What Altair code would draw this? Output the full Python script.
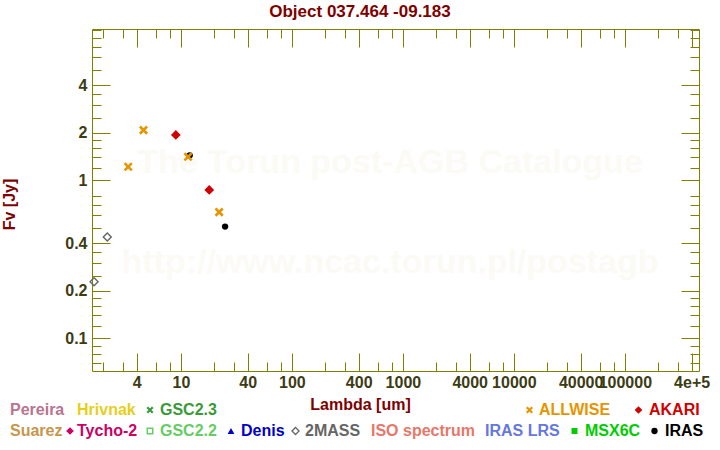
import altair as alt
import pandas as pd

# ---------------- data ----------------
title_text = "Object 037.464 -09.183"
x_title = "Lambda [um]"
y_title = "Fv [Jy]"

twomass_lam = [1.65, 2.17]
twomass_fnu = [0.228, 0.438]
allwise_lam = [3.35, 4.6, 11.6, 22.1]
allwise_fnu = [1.22, 2.08, 1.41, 0.63]
akari_lam = [9.0, 18.0]
akari_fnu = [1.94, 0.87]
iras_lam = [12.0, 25.0]
iras_fnu = [1.44, 0.51]

x_major = [4, 10, 40, 100, 400, 1000, 4000, 10000, 40000, 100000, 400000]
x_minor = [2, 3, 6, 8, 20, 30, 60, 80, 200, 300, 600, 800, 2000, 3000, 6000, 8000,
           20000, 30000, 60000, 80000, 200000, 300000]
y_major = [0.1, 0.2, 0.4, 1, 2, 4]
y_minor = [0.07, 0.08, 0.09, 0.12, 0.14, 0.16, 0.18, 0.25, 0.3, 0.35, 0.5, 0.6, 0.7, 0.8,
           1.2, 1.4, 1.6, 1.8, 2.5, 3, 3.5, 5, 6, 7, 8, 9]

watermark_lines = ["The Torun post-AGB Catalogue", "http://www.ncac.torun.pl/postagb"]

# legend entries: name, colour, symbol (None = no symbol)
legend_names = ["Pereira", "Hrivnak", "GSC2.3", "ALLWISE", "AKARI",
                "Suarez", "Tycho-2", "GSC2.2", "Denis", "2MASS", "ISO spectrum",
                "IRAS LRS", "MSX6C", "IRAS"]
legend_colors = ["#b87490", "#e6cf1a", "#3a9a3a", "#e69500", "#d10000",
                 "#c8964b", "#cc0066", "#66cc66", "#0000cc", "#666666", "#e8776a",
                 "#6677dd", "#00cc00", "#000000"]
legend_symbols = [None, None, "x", "x", "diamond",
                  None, "diamond", "osquare", "triangle-up", "odiamond", None,
                  None, "square", "circle"]

# ---------------- layout (pixels) ----------------
W, H = 607, 342
PAD = {"left": 92, "top": 29, "right": 21, "bottom": 79}
row_y = [381, 402]
legend_text_x = [-82, -15, 68, 447, 557,
                 -82, -15, 68, 149, 213, 279, 393, 493, 573]
legend_sym_x = [None, None, 58, 437.5, 546.5,
                None, -22, 58, 139, 203.5, None, None, 482.5, 562.5]
legend_row = [0, 0, 0, 0, 0, 1, 1, 1, 1, 1, 1, 1, 1, 1]

FONT = "Liberation Sans"
OLIVE = "#808000"
LABEL = "#3c3c14"
MAROON = "#800000"
XPATH = "M-1,-1L1,1M-1,1L1,-1"

xs = alt.Scale(type="log", domain=[1.58, 4.66e5], nice=False)
ys = alt.Scale(type="log", domain=[0.0622, 9.08], nice=False)

x_all = sorted(x_major + x_minor)
y_all = sorted(y_major + y_minor)


def tick_size(major):
    return {"condition": {"test": "indexof(%s, datum.value) >= 0" % str(major), "value": 18},
            "value": 9}


def frame_df(lam, fnu):
    return pd.DataFrame({"lam": lam, "fnu": fnu})


base_anchor = frame_df(twomass_lam, twomass_fnu)

# axis layer A: labels + titles
axis_a = alt.Chart(base_anchor).mark_point(opacity=0).encode(
    x=alt.X("lam:Q", scale=xs, axis=alt.Axis(
        orient="bottom", values=x_major,
        labelExpr="datum.value >= 400000 ? '4e+5' : format(datum.value, 'd')",
        ticks=False, tickSize=0, domain=False, grid=False, labelPadding=3,
        labelOverlap=False, labelFlush=False,
        labelFont=FONT, labelFontSize=16, labelFontWeight="bold", labelColor=LABEL,
        title=x_title, titleX=268, titleY=33, titleAlign="center", titleBaseline="middle",
        titleFont=FONT, titleFontSize=16, titleFontWeight="bold", titleColor=MAROON)),
    y=alt.Y("fnu:Q", scale=ys, axis=alt.Axis(
        orient="left", values=y_major, labelExpr="'' + datum.value",
        ticks=False, tickSize=0, domain=False, grid=False, labelPadding=5,
        labelOverlap=False, labelFlush=False,
        labelFont=FONT, labelFontSize=16, labelFontWeight="bold", labelColor=LABEL,
        title=y_title, titleX=-83, titleY=175, titleAngle=270, titleAlign="center",
        titleBaseline="middle", titleFont=FONT, titleFontSize=16, titleFontWeight="bold",
        titleColor=MAROON)),
)

tick_common = dict(labels=False, domain=False, grid=False, ticks=True, tickColor=OLIVE,
                   tickWidth=1, title=None)

# axis layer B: inward ticks on bottom and left edges
axis_b = alt.Chart(base_anchor).mark_point(opacity=0).encode(
    x=alt.X("lam:Q", scale=xs, axis=alt.Axis(orient="top", offset=-H, values=x_all,
                                             tickSize=tick_size(x_major), **tick_common)),
    y=alt.Y("fnu:Q", scale=ys, axis=alt.Axis(orient="right", offset=-W, values=y_all,
                                             tickSize=tick_size(y_major), **tick_common)),
)
# axis layer C: inward ticks on top and right edges
axis_c = alt.Chart(base_anchor).mark_point(opacity=0).encode(
    x=alt.X("lam:Q", scale=xs, axis=alt.Axis(orient="bottom", offset=-H, values=x_all,
                                             tickSize=tick_size(x_major), **tick_common)),
    y=alt.Y("fnu:Q", scale=ys, axis=alt.Axis(orient="left", offset=-W, values=y_all,
                                             tickSize=tick_size(y_major), **tick_common)),
)

one = pd.DataFrame({"a": [0]})

watermark = [
    alt.Chart(one).mark_text(text=t, font=FONT, fontSize=34, fontWeight="bold",
                             color="#fbfaf5", align="center", baseline="middle").encode(
        x=alt.value(298), y=alt.value(yy))
    for t, yy in zip(watermark_lines, [134, 234])
]

title_layer = alt.Chart(one).mark_text(
    text=title_text, font=FONT, fontSize=17, fontWeight="bold", color=MAROON,
    align="center", baseline="middle").encode(x=alt.value(268), y=alt.value(-17))


def pts(lam, fnu, **mk):
    return alt.Chart(frame_df(lam, fnu)).mark_point(opacity=1, **mk).encode(
        x=alt.X("lam:Q", scale=xs, axis=None),
        y=alt.Y("fnu:Q", scale=ys, axis=None),
    )


data_layers = [
    pts(iras_lam, iras_fnu, shape="circle", filled=True, color="#000000", size=40),
    pts(twomass_lam, twomass_fnu, shape="diamond", filled=False, color="#666666",
        size=64, strokeWidth=1.4),
    pts(akari_lam, akari_fnu, shape="diamond", filled=True, color="#d10000", size=95),
    pts(allwise_lam, allwise_fnu, shape=XPATH, filled=False, color="#e69500",
        size=52, strokeWidth=2.6),
]

sym_style = {
    "x": dict(shape=XPATH, filled=False, size=30, strokeWidth=2.2),
    "diamond": dict(shape="diamond", filled=True, size=60),
    "osquare": dict(shape="square", filled=False, size=30, strokeWidth=1.5),
    "triangle-up": dict(shape="triangle-up", filled=True, size=45),
    "odiamond": dict(shape="diamond", filled=False, size=50, strokeWidth=1.3),
    "square": dict(shape="square", filled=True, size=36),
    "circle": dict(shape="circle", filled=True, size=40),
}

legend_layers = []
for name, col, sym, tx, sx, r in zip(legend_names, legend_colors, legend_symbols,
                                      legend_text_x, legend_sym_x, legend_row):
    legend_layers.append(
        alt.Chart(one).mark_text(text=name, font=FONT, fontSize=16, fontWeight="bold",
                                 color=col, align="left", baseline="middle").encode(
            x=alt.value(tx), y=alt.value(row_y[r])))
    if sym is not None:
        legend_layers.append(
            alt.Chart(one).mark_point(opacity=1, color=col, **sym_style[sym]).encode(
                x=alt.value(sx), y=alt.value(row_y[r])))

chart = alt.layer(
    *watermark, axis_a, axis_b, axis_c, *data_layers, title_layer, *legend_layers
).resolve_axis(
    x="independent", y="independent"
).properties(
    width=W, height=H,
    padding=PAD,
    autosize=alt.AutoSizeParams(type="none"),
    background="white",
).configure_view(stroke=OLIVE, strokeWidth=1)

chart.save("out.html", embed_options={"renderer": "svg", "actions": False})
